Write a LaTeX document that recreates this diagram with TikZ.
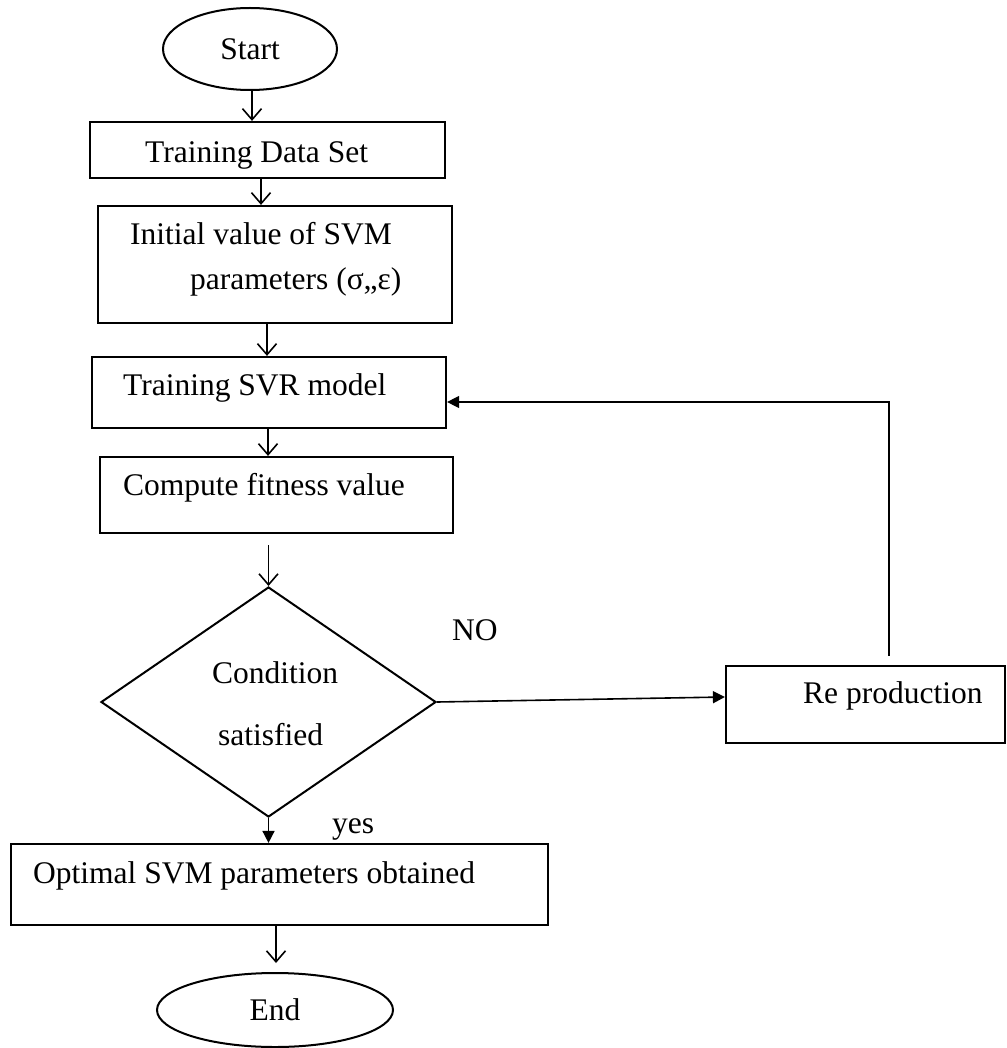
\documentclass[tikz,border=0pt]{standalone}
\usepackage{fontspec}
\setmainfont{Liberation Serif}
\usetikzlibrary{shapes.geometric,arrows.meta}
\newcommand\diagfont{\fontsize{31.5pt}{36pt}\selectfont}
\begin{document}
\begin{tikzpicture}[x=1pt,y=-1pt,
  term/.style={ellipse,draw,line width=2pt,inner sep=0pt,font=\diagfont},
  box/.style={rectangle,draw,line width=2.2pt,inner sep=0pt},
  txt/.style={anchor=base west,inner sep=0pt,font=\diagfont},
  flow/.style={line width=1.6pt,-{Straight Barb[length=11pt,width=19pt,line width=1.6pt]}},
  flowf/.style={line width=1.6pt,-{Triangle[length=12pt,width=12pt]}},
  back/.style={line width=1.3pt,-{Triangle[length=12pt,width=12pt]}}]
\useasboundingbox (0,0) rectangle (1006,1048);
% shapes
\node[term,minimum width=174pt,minimum height=82pt] (start) at (250,49) {Start};
\node[box,minimum width=355pt,minimum height=56pt] (train) at (267.5,150) {};
\node[box,minimum width=354pt,minimum height=117pt] (init) at (275,264.5) {};
\node[box,minimum width=354pt,minimum height=71pt] (svr) at (269,392.5) {};
\node[box,minimum width=353pt,minimum height=76pt] (comp) at (276.5,495) {};
\node[diamond,draw,line width=2pt,inner sep=0pt,minimum width=335pt,minimum height=230pt] (dia) at (268.5,702) {};
\node[box,minimum width=537pt,minimum height=81pt] (opt) at (279.5,884.5) {};
\node[term,minimum width=236pt,minimum height=74pt] (end) at (275,1010) {End};
\node[box,minimum width=279pt,minimum height=77pt] (rep) at (865.5,704.5) {};
% texts
\node[txt] (ttrain) at (145,163) {Training Data Set};
\node[txt] (tinit1) at (130,245) {Initial value of SVM};
\node[txt] (tinit2) at (190,290) {parameters (σ,,ε)};
\node[txt] (tsvr) at (123,395) {Training SVR model};
\node[txt] (tcomp) at (123,495) {Compute fitness value};
\node[txt] (tcond1) at (212,683) {Condition};
\node[txt] (tcond2) at (218,745) {satisfied};
\node[txt] (tyes) at (332,833) {yes};
\node[txt] (tno) at (452,640) {NO};
\node[txt] (topt) at (33,883) {Optimal SVM parameters obtained};
\node[txt] (trep) at (803,703) {Re production};
% connectors
\draw[flow] ([xshift=2pt]start.south) -- ([xshift=2pt]start.south |- train.north);
\draw[flow] ([xshift=-6.5pt]train.south) -- ([xshift=-6.5pt]train.south |- init.north);
\draw[flow] ([xshift=-8pt]init.south) -- ([xshift=-8pt]init.south |- svr.north);
\draw[flow] ([xshift=-1pt]svr.south) -- ([xshift=-1pt]svr.south |- comp.north);
\draw[flow,shorten <=11pt] (dia.north |- comp.south) -- (dia.north);
\draw[flowf] (dia.south) -- (dia.south |- opt.north);
\draw[flow,shorten >=9pt] ([xshift=-3.5pt]opt.south) -- ([xshift=-3.5pt]opt.south |- end.north);
\draw[flowf] (dia.east) -- ([yshift=7.5pt]rep.west);
\coordinate (fb) at ([xshift=23.5pt,yshift=9pt]rep.north);
\draw[back] (fb) |- ([yshift=-9.5pt]svr.east);
\end{tikzpicture}
\end{document}
